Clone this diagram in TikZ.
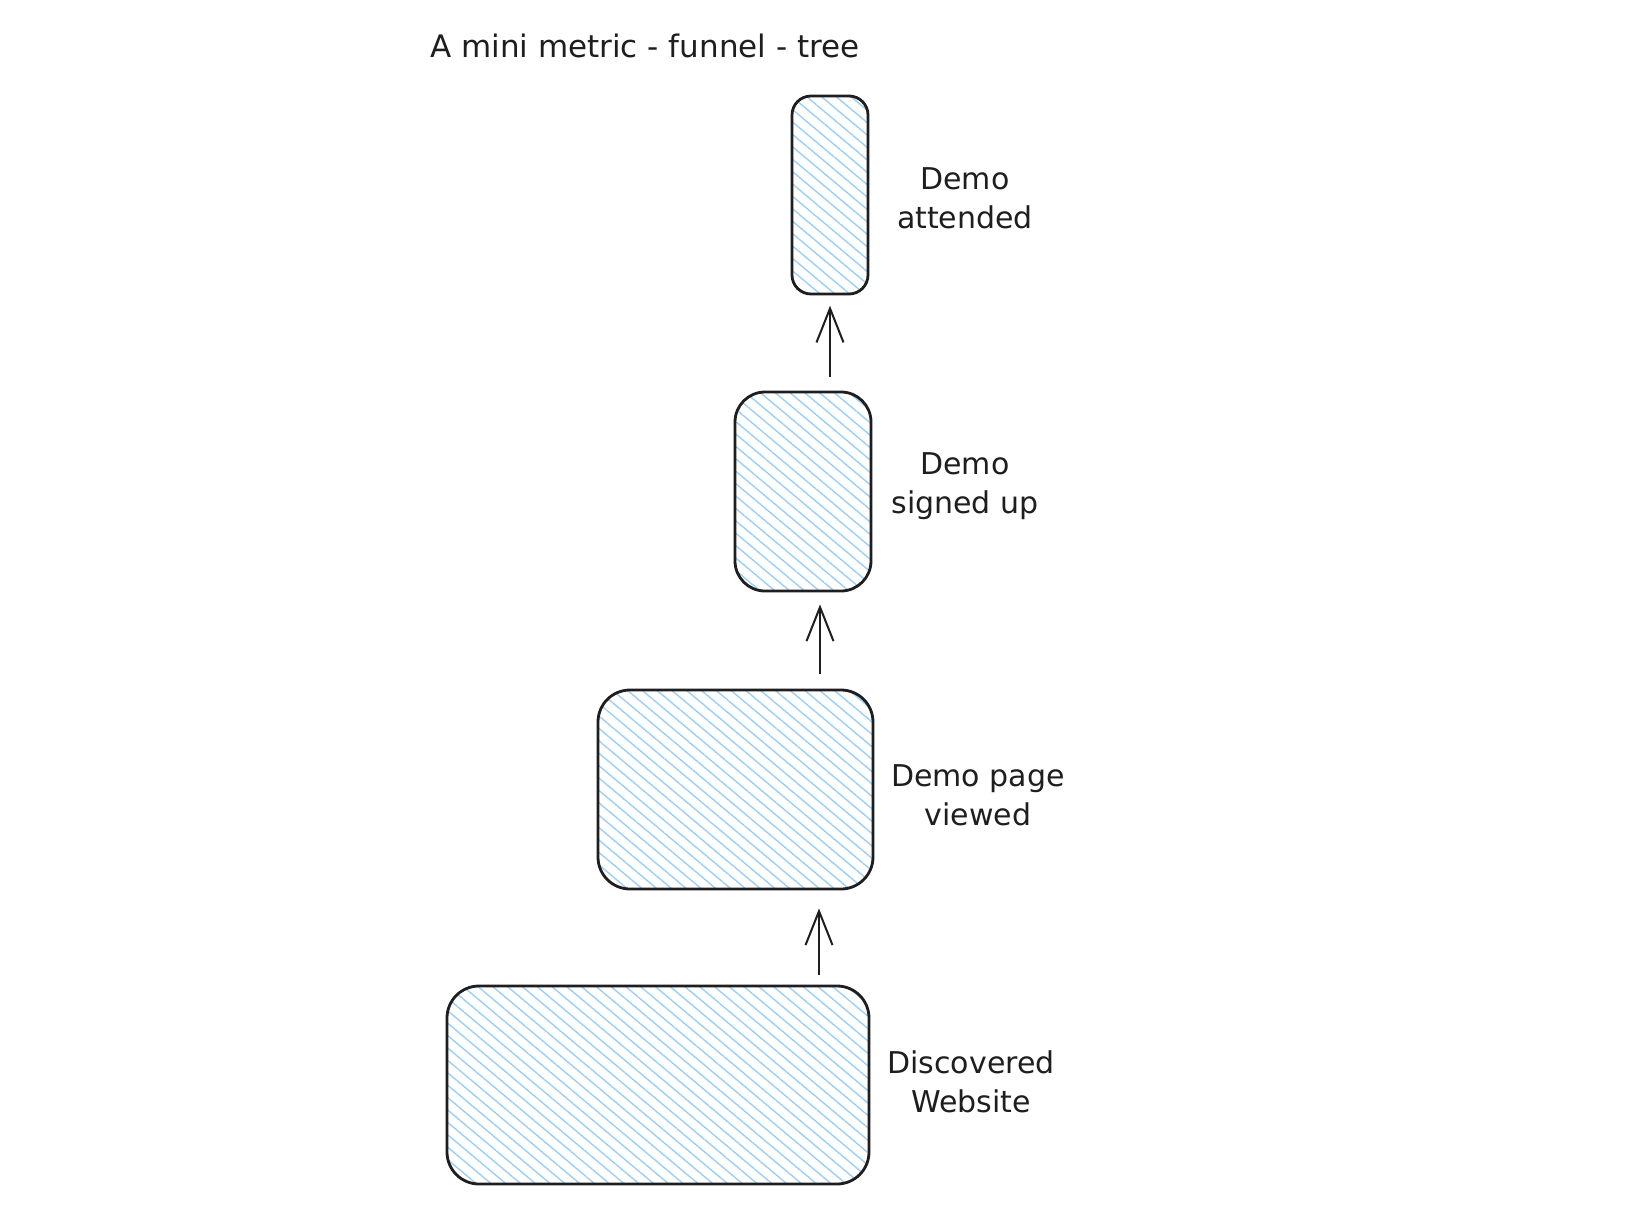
\documentclass[tikz,border=0pt]{standalone}
\usepackage{fontspec}
\setmainfont{DejaVu Sans}
\usetikzlibrary{arrows.meta,patterns.meta,calc}
\definecolor{ink}{HTML}{1E1E1E}
\definecolor{hatch}{HTML}{9CCFF8}
\begin{document}
\begin{tikzpicture}[x=1pt,y=-1pt,
  box/.style={draw=ink, line width=2.8pt, inner sep=0pt,
    pattern={Lines[angle=-40,distance=9.5pt,line width=1.4pt]}, pattern color=hatch},
  lbl/.style={font=\fontsize{30}{39}\selectfont, text=ink, align=center, inner sep=0pt, anchor=base},
  arr/.style={draw=ink, line width=2pt, -{Straight Barb[length=34pt,width=27pt]}}]
\fill[white] (0,0) rectangle (1630,1218);
\useasboundingbox (0,0) rectangle (1630,1218);

\node[lbl, anchor=base west, font=\fontsize{31}{39}\selectfont] (title) at (430,57) {A mini metric - funnel - tree};

\node[box, rounded corners=19pt, minimum width=76pt, minimum height=198pt] (b1) at (830,195) {};
\node[box, rounded corners=30pt, minimum width=136pt, minimum height=199pt] (b2) at (803,491.5) {};
\node[box, rounded corners=32pt, minimum width=275pt, minimum height=199pt] (b3) at (735.5,789.5) {};
\node[box, rounded corners=32pt, minimum width=422pt, minimum height=198pt] (b4) at (658,1085) {};

\node[lbl] (l1) at (965,228) {Demo\\attended};
\node[lbl] (l2) at (965,513) {Demo\\signed up};
\node[lbl] (l3) at (978,825) {Demo page\\viewed};
\node[lbl] (l4) at (971,1112) {Discovered\\Website};

\draw[arr] ($(b2.north)+(27,-14)$) -- ($(b1.south)+(0,11)$);
\draw[arr] ($(b3.north)+(84.5,-15)$) -- ($(b2.south)+(17,12)$);
\draw[arr] ($(b4.north)+(161,-10)$) -- ($(b3.south)+(83.5,18)$);
\end{tikzpicture}
\end{document}
